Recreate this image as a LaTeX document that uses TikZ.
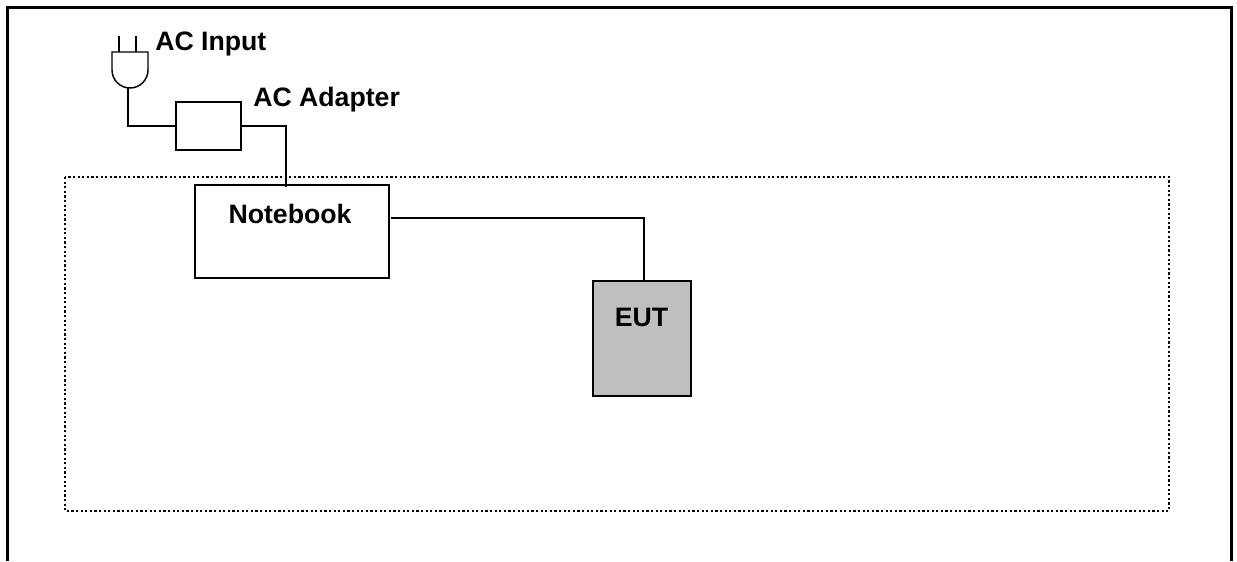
\documentclass[tikz,border=0pt]{standalone}
\usepackage{fontspec}
\setmainfont{Liberation Sans}
\tikzset{
  unitbox/.style={draw,line width=1.1pt,inner sep=0pt},
  lbl/.style={font=\bfseries\fontsize{20}{22}\selectfont,inner sep=0pt},
  wire/.style={line width=1.1pt}
}
\begin{document}
\begin{tikzpicture}[x=0.75pt,y=-0.75pt]
\useasboundingbox (0,0) rectangle (1237,561);
\fill[white] (0,0) rectangle (1237,561);
% outer frame, open at the bottom
\draw[line width=2.25pt] (7.5,561)--(7.5,7.3)--(1231.5,7.3)--(1231.5,561);
% table
\draw[line width=1.7pt,dash pattern=on 1.7pt off 1.75pt] (65,177) rectangle (1169,511);

\node[unitbox,minimum width=48.75pt,minimum height=36pt] (adapter) at (208.5,126) {};
\node[unitbox,minimum width=145.5pt,minimum height=69.75pt] (notebook) at (292,231.5) {};
\node[unitbox,line width=1.8pt,fill=black!25,minimum width=73.5pt,minimum height=86.25pt] (eut) at (642,338.5) {};

\coordinate (plug) at (128,88);
\coordinate (nbtop) at (286,187);
\coordinate (nbside) at (391,218);
\coordinate (euttop) at (644,281);

% plug
\draw[wire] (112,52)--(148,52)--(148,70) arc (0:180:18)--cycle;
\draw[wire] (119,36)--(119,52);
\draw[wire] (136,36)--(136,52);

\draw[wire] (plug)|-(adapter.west);
\draw[wire] (adapter.east)-|(nbtop);
\draw[wire] (nbside)-|(euttop);

\node[lbl,anchor=base west] (acin) at (155,50) {AC Input};
\node[lbl,anchor=base west] (acad) at (253,106.5) {AC Adapter};
\node[lbl,anchor=base] (nblbl) at (290,223) {Notebook};
\node[lbl,anchor=base] (eutlbl) at (641.5,326.5) {EUT};
\end{tikzpicture}
\end{document}
